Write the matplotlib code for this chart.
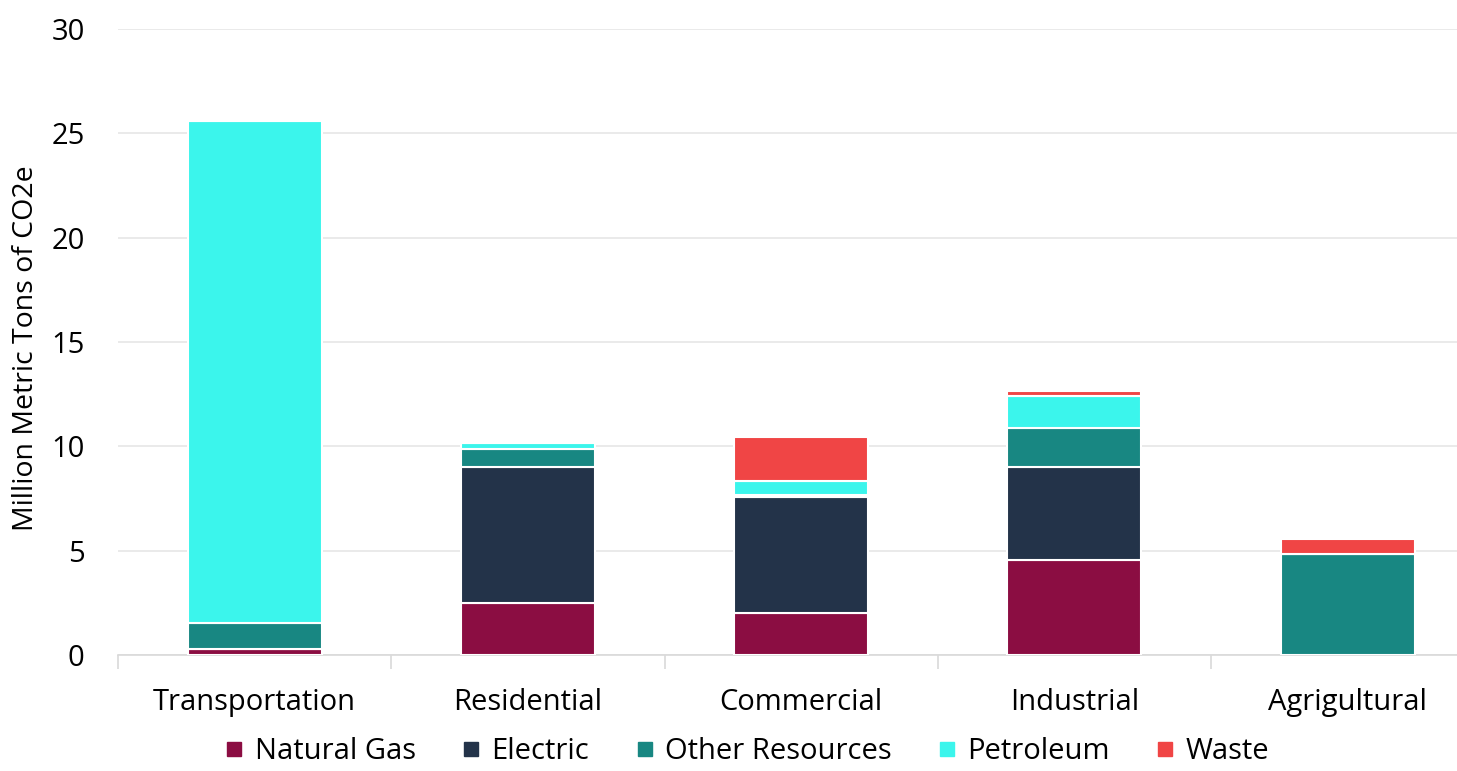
import numpy as np
import matplotlib.pyplot as plt
from matplotlib.ticker import FixedLocator

plt.rcParams['font.family'] = ['Open Sans', 'DejaVu Sans']

# Datos
sectores = ['Transportation', 'Residential', 'Commercial', 'Industrial', 'Agrigultural']
natural_gas = [0.3, 2.5, 2.0, 4.55, 0.0]
electric = [0.0, 6.5, 5.55, 4.45, 0.0]
other_res = [1.25, 0.87, 0.1, 1.88, 4.85]
petroleum = [24.05, 0.28, 0.7, 1.53, 0.0]
waste = [0.0, 0.0, 2.1, 0.25, 0.7]

series = ['Natural Gas', 'Electric', 'Other Resources', 'Petroleum', 'Waste']
colores = ['#8B0D42', '#233349', '#188782', '#3BF5EC', '#F04545']
valores = [natural_gas, electric, other_res, petroleum, waste]

fig = plt.figure(figsize=(14.57, 7.71), dpi=100)
ax = fig.add_axes([0.081, 0.1505, 0.919, 0.8119])

x = np.arange(len(sectores))
base = np.zeros(len(sectores))
for nombre, vals, c in zip(series, valores, colores):
    vals = np.array(vals)
    ax.bar(x, vals, width=0.49, bottom=base, color=c, edgecolor='white',
           linewidth=1.5, label=nombre, zorder=3)
    base += vals

ax.set_xlim(-0.5, 4.4)
ax.set_ylim(0, 30)
ax.set_yticks([0, 5, 10, 15, 20, 25, 30])
ax.set_xticks(x)
ax.set_xticklabels(sectores, fontsize=21)
ax.xaxis.set_minor_locator(FixedLocator(np.arange(-0.5, 4.5, 1)))
ax.tick_params(axis='x', which='major', length=0, pad=24)
ax.tick_params(axis='x', which='minor', length=10, color='#d9d9d9', width=1.2)
ax.tick_params(axis='y', length=0, labelsize=21, pad=24)
ax.set_ylabel('Million Metric Tons of CO2e', fontsize=20.5)
ax.yaxis.set_label_coords(-0.058, 0.49)

ax.grid(axis='y', color='#e6e6e6', linewidth=1.2, zorder=0)
for s in ['top', 'right', 'left']:
    ax.spines[s].set_visible(False)
ax.spines['bottom'].set_color('#d9d9d9')
ax.spines['bottom'].set_linewidth(1.2)

handles = [plt.Line2D([], [], marker='s', linestyle='', color=c, markersize=10) for c in colores]
fig.legend(handles, series, loc='lower center', bbox_to_anchor=(0.512, -0.028), ncol=5,
           frameon=False, fontsize=21, handletextpad=0.3, columnspacing=1.5,
           handlelength=0.8)

plt.savefig('out.png', dpi=100)
